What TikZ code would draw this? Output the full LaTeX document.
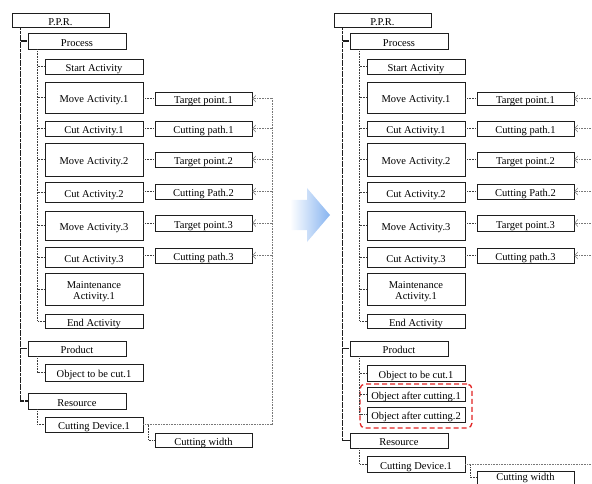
\documentclass[tikz,border=0pt]{standalone}
\usepackage{fontspec}
\setmainfont{Liberation Serif}
\usetikzlibrary{arrows.meta}
\definecolor{boxc}{RGB}{30,30,30}
\definecolor{linec}{RGB}{60,60,60}
\definecolor{busc}{RGB}{120,120,120}
\definecolor{arrowblue}{RGB}{135,180,240}
\definecolor{redc}{RGB}{225,35,35}
\tikzset{
  box/.style={draw=boxc, line width=0.9pt, inner sep=0pt,
    font=\fontsize{10.5}{11.5}\selectfont, fill=white},
  oneline/.style={text height=10.5pt, text depth=0pt},
  trunk/.style={draw=boxc, line width=1.3pt, dash pattern=on 3pt off 0.6pt},
  twig/.style={draw=linec, line width=0.6pt, densely dotted},
  feed/.style={draw=busc, line width=0.6pt, densely dotted,
    -{Straight Barb[length=3pt,width=7pt,line width=0.5pt]}},
  hilite/.style={draw=redc, line width=1.3pt, dash pattern=on 5pt off 3pt,
    rounded corners=5pt, inner sep=0pt},
}
\newcommand\bx[6]{\node[box,oneline,minimum width=#4pt,minimum height=#5pt] (#1) at (#2,#3) {#6};}
\newcommand\activities[1]{%
  \bx{#1ppr}{60.5}{20}{97}{14}{P.P.R.}
  \bx{#1proc}{77}{41}{98}{16}{Process}
  \bx{#1start}{94}{66.5}{98}{15}{Start Activity}
  \bx{#1mv1}{94}{97.5}{98}{31}{Move Activity.1}
  \bx{#1tp1}{203.5}{98.5}{97}{13}{Target point.1}
  \bx{#1ct1}{94}{128.5}{98}{15}{Cut Activity.1}
  \bx{#1cp1}{203.5}{128.5}{97}{15}{Cutting path.1}
  \bx{#1mv2}{94}{159.5}{98}{33}{Move Activity.2}
  \bx{#1tp2}{203.5}{159.5}{97}{15}{Target point.2}
  \bx{#1ct2}{94}{192}{98}{20}{Cut Activity.2}
  \bx{#1cp2}{203.5}{191.5}{97}{15}{Cutting Path.2}
  \bx{#1mv3}{94}{225.5}{98}{29}{Move Activity.3}
  \bx{#1tp3}{203.5}{223}{97}{16}{Target point.3}
  \bx{#1ct3}{94}{257}{98}{20}{Cut Activity.3}
  \bx{#1cp3}{203.5}{255.5}{97}{15}{Cutting path.3}
  \node[box,minimum width=98pt,minimum height=32pt] (#1mt) at (94,289)
    {\raisebox{-2.5pt}[\height][\depth]{\begin{tabular}{@{}c@{}}Maintenance\\[-1pt]Activity.1\end{tabular}}};
  \bx{#1end}{94}{321}{98}{14}{End Activity}
  \coordinate (#1bus) at (272,98.5);
  \coordinate (#1tv) at ([xshift=9pt]#1ppr.south west);
  \coordinate (#1pv) at ([xshift=10pt]#1proc.south west);
  \draw[twig] (#1pv) |- (#1end.west);
  \foreach \n in {start,mv1,ct1,mv2,ct2,mv3,ct3,mt}
    \draw[twig] (#1\n.west -| #1pv) -- (#1\n.west);
  \foreach \a/\b in {mv1/tp1,ct1/cp1,mv2/tp2,ct2/cp2,mv3/tp3,ct3/cp3}
    \draw[twig] (#1\b.west -| #1\a.east) -- (#1\b.west);
  \foreach \b in {tp1,cp1,tp2,cp2,tp3,cp3}
    \draw[feed] (#1\b.east -| #1bus) -- (#1\b.east);
}
\begin{document}
\begin{tikzpicture}[x=1pt,y=-1pt]
\useasboundingbox (0,0) rectangle (592,484);
\clip (0,0) rectangle (592,484);
% ---------- left tree ----------
\activities{L}
\bx{Lprod}{77}{348.5}{98}{15}{Product}
\bx{Lobj}{94}{372.5}{98}{17}{Object to be cut.1}
\bx{Lres}{77}{401}{98}{16}{Resource}
\bx{Lcd}{94}{424.5}{98}{15}{Cutting Device.1}
\bx{Lcw}{203.5}{440}{97}{14}{Cutting width}
\draw[trunk] (Ltv) |- (Lres.west);
\draw[trunk] (Lproc.west -| Ltv) -- (Lproc.west);
\draw[trunk] (Lprod.west -| Ltv) -- (Lprod.west);
\coordinate (Lqv) at ([xshift=10pt]Lprod.south west);
\draw[twig] (Lqv) |- (Lobj.west);
\coordinate (Lrv) at ([xshift=10pt]Lres.south west);
\draw[twig] (Lrv) |- (Lcd.west);
\draw[twig] (Lcd.east) -- ++(5,0) |- (Lcw.west);
\draw[draw=busc, line width=0.6pt, densely dotted] (Lcd.east) -| (Lbus);
% ---------- arrow ----------
\shade[left color=white, right color=arrowblue]
  (290,200) -- (307,200) -- (307,188) -- (330,215) -- (307,242) -- (307,230) -- (290,230) -- cycle;
% ---------- right tree ----------
\begin{scope}[xshift=322pt]
\activities{R}
\bx{Rprod}{77}{348.5}{98}{15}{Product}
\bx{Robj}{94}{373}{98}{16}{Object to be cut.1}
\bx{Roa1}{94}{394}{98}{14}{Object after cutting.1}
\bx{Roa2}{94}{414.5}{98}{15}{Object after cutting.2}
\bx{Rres}{77}{440.5}{98}{15}{Resource}
\bx{Rcd}{94}{464}{98}{16}{Cutting Device.1}
\node[box,text height=8pt,text depth=1.5pt,minimum width=97pt,minimum height=13pt] (Rcw) at (203.5,477.5) {Cutting width};
\node[hilite, minimum width=112pt, minimum height=44pt] (Rhl) at (94,406) {};
\draw[trunk] (Rtv) |- (Rres.west);
\draw[trunk] (Rproc.west -| Rtv) -- (Rproc.west);
\draw[trunk] (Rprod.west -| Rtv) -- (Rprod.west);
\coordinate (Rqv) at ([xshift=10pt]Rprod.south west);
\draw[twig] (Rqv) |- (Roa2.west);
\draw[twig] (Robj.west -| Rqv) -- (Robj.west);
\draw[twig] (Roa1.west -| Rqv) -- (Roa1.west);
\coordinate (Rrv) at ([xshift=10pt]Rres.south west);
\draw[twig] (Rrv) |- (Rcd.west);
\draw[twig] (Rcd.east) -- ++(5,0) |- (Rcw.west);
\draw[draw=busc, line width=0.6pt, densely dotted] (Rcd.east) -| (Rbus);
\end{scope}
\end{tikzpicture}
\end{document}
